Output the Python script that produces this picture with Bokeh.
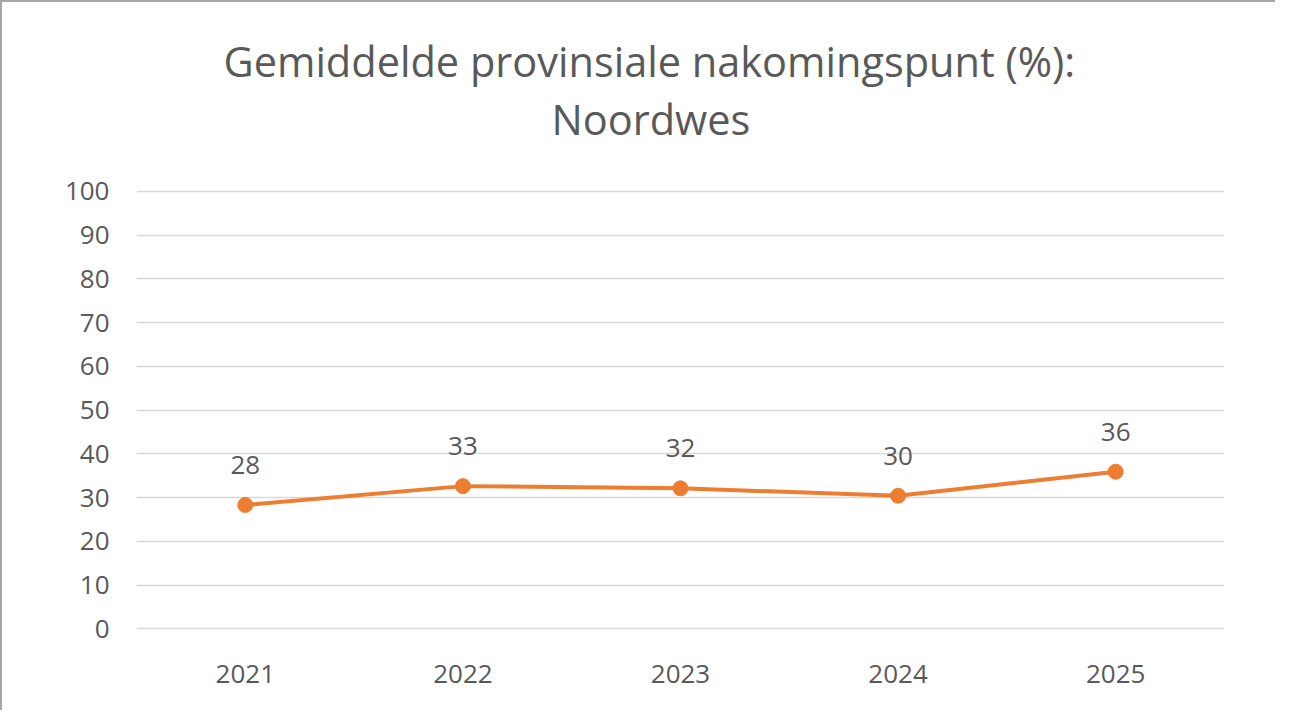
from bokeh.plotting import figure
from bokeh.models import ColumnDataSource, Title, FixedTicker, Range1d
from bokeh.core.properties import value
from bokeh.embed import file_html
from bokeh.resources import INLINE

years = ["2021", "2022", "2023", "2024", "2025"]
scores = [28.3, 32.6, 32.1, 30.4, 35.9]
labels = [f"{v:.0f}" for v in scores]
y_ticks = [0, 10, 20, 30, 40, 50, 60, 70, 80, 90, 100]

FONT = "Open Sans"
TXT = "#595959"
ORANGE = "#ED7D31"

src = ColumnDataSource(dict(x=years, y=scores, lab=labels))

p = figure(x_range=years, y_range=Range1d(-0.4, 100.4), width=1275, height=710,
           output_backend="svg", toolbar_location=None,
           min_border_left=134, min_border_right=53, min_border_bottom=82,
           min_border_top=187)
p.styles = {"border-top": "2px solid #a6a6a6", "border-left": "2px solid #a6a6a6"}
p.title = None

spacer = Title(text=" ", text_font_size="1px", standoff=40)
t2 = Title(text="Noordwes", align="left", text_font=FONT, text_font_size="41.5px",
           text_color=TXT, text_font_style="normal", standoff=0, offset=415)
t1 = Title(text="Gemiddelde provinsiale nakomingspunt (%):", align="left", text_font=FONT,
           text_font_size="41.5px", text_color=TXT, text_font_style="normal", standoff=0,
           offset=87)
p.add_layout(spacer, "above")
p.add_layout(t2, "above")
p.add_layout(t1, "above")

p.outline_line_color = None
p.background_fill_color = "white"
p.border_fill_color = "white"

p.xgrid.grid_line_color = None
p.ygrid.grid_line_color = "#D9D9D9"
p.ygrid.grid_line_width = 1.5

p.yaxis.ticker = FixedTicker(ticks=y_ticks)
for ax in (p.xaxis, p.yaxis):
    ax.axis_line_color = None
    ax.major_tick_line_color = None
    ax.minor_tick_line_color = None
    ax.major_label_text_font = FONT
    ax.major_label_text_font_size = "26px"
    ax.major_label_text_color = TXT
p.yaxis.major_label_standoff = 21
p.xaxis.major_label_standoff = 28

p.line("x", "y", source=src, line_color=ORANGE, line_width=4)
p.scatter("x", "y", source=src, size=15, fill_color=ORANGE, line_color=ORANGE)
p.text("x", "y", text="lab", source=src, y_offset=-40, text_align="center",
       text_baseline="middle", text_font=value(FONT), text_font_size="26px",
       text_color=TXT)

open("out.html", "w").write(file_html(p, INLINE))
